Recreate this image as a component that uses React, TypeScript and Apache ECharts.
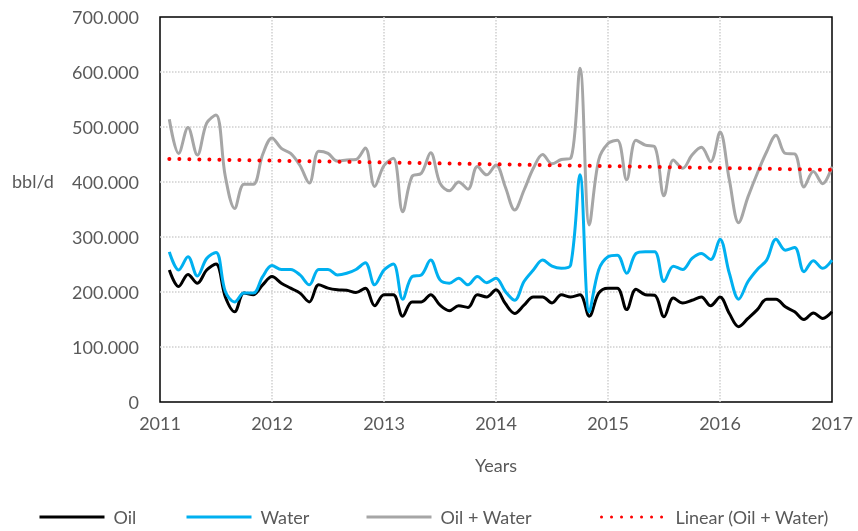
import React, { useEffect, useRef } from 'react';
import * as echarts from 'echarts';

const startYear = 2011;
const xTicks = [2011, 2012, 2013, 2014, 2015, 2016, 2017];
const yTicks = [0, 100, 200, 300, 400, 500, 600, 700];
const seriesNames = ['Oil', 'Water', 'Oil + Water', 'Linear (Oil + Water)'];

// Monthly values, Feb 2011 .. Jan 2017 (bbl/d)
const oil = [
  240, 210, 232, 216, 240, 251, 191, 164, 198, 195, 213, 228,
  216, 207, 198, 182, 213, 207, 204, 203, 199, 207, 175, 195,
  195, 156, 182, 182, 195, 176, 166, 175, 172, 195, 191, 204,
  179, 161, 176, 191, 191, 180, 195, 191, 195, 156, 198, 207,
  207, 168, 205, 195, 194, 155, 189, 180, 185, 191, 175, 191,
  161, 137, 152, 168, 187, 187, 173, 164, 150, 162, 152, 164,
];
const water = [
  273, 240, 264, 229, 261, 272, 201, 182, 198, 198, 228, 248,
  241, 241, 231, 213, 241, 241, 231, 234, 241, 253, 213, 240,
  251, 187, 228, 231, 258, 222, 216, 225, 213, 228, 217, 225,
  201, 185, 219, 240, 258, 247, 243, 249, 413, 164, 240, 264,
  267, 234, 270, 273, 273, 219, 247, 241, 261, 270, 259, 296,
  234, 187, 219, 241, 258, 296, 276, 281, 237, 257, 243, 258,
];
const oilWater = [
  514, 452, 499, 449, 507, 522, 410, 352, 396, 396, 450, 480,
  461, 452, 430, 398, 456, 452, 438, 440, 441, 462, 392, 430,
  443, 346, 410, 416, 453, 398, 384, 400, 387, 428, 413, 431,
  391, 349, 385, 425, 450, 433, 441, 443, 607, 322, 440, 470,
  476, 404, 476, 467, 464, 375, 440, 425, 449, 463, 437, 491,
  404, 326, 373, 416, 455, 485, 452, 451, 391, 419, 397, 428,
];

const toPoints = (vals: number[]) => vals.map((v, i) => [startYear + (i + 1) / 12, v]);

function linearTrend(pts: number[][]) {
  const n = pts.length;
  let sx = 0, sy = 0, sxx = 0, sxy = 0;
  pts.forEach(([x, y]) => { sx += x; sy += y; sxx += x * x; sxy += x * y; });
  const b = (n * sxy - sx * sy) / (n * sxx - sx * sx);
  const a = (sy - b * sx) / n;
  const x0 = pts[0][0];
  const x1 = pts[n - 1][0];
  return [[x0, a + b * x0], [x1, a + b * x1]];
}

const FONT = 'Lato, "Liberation Sans", sans-serif';
const LABEL = '#595959';
const legendLefts = [38, 185, 365, 600];

export default function App() {
  const ref = useRef<HTMLDivElement>(null);
  useEffect(() => {
    if (!ref.current) return;
    const chart = echarts.init(ref.current, null, { renderer: 'svg' });
    const owPts = toPoints(oilWater);
    const split = { show: true, showMinLine: false, showMaxLine: false, lineStyle: { color: '#cfcfcf', type: 'dotted', width: 1.5 } };
    chart.setOption({
      animation: false,
      textStyle: { fontFamily: FONT },
      grid: {
        left: 160, right: 26, top: 17, bottom: 129,
        show: true, borderColor: '#000', borderWidth: 1.5, backgroundColor: 'transparent',
      },
      xAxis: {
        type: 'value', min: xTicks[0], max: xTicks[xTicks.length - 1], interval: 1,
        name: 'Years', nameLocation: 'middle', nameGap: 54,
        nameTextStyle: { color: LABEL, fontSize: 18, fontFamily: FONT },
        axisLine: { show: false }, axisTick: { show: false },
        axisLabel: { color: LABEL, fontSize: 18, margin: 12, formatter: (v: number) => String(v) },
        splitLine: split,
      },
      yAxis: {
        type: 'value', min: yTicks[0], max: yTicks[yTicks.length - 1], interval: 100,
        axisLine: { show: false }, axisTick: { show: false },
        axisLabel: { color: LABEL, fontSize: 18, margin: 21, formatter: (v: number) => (v === 0 ? '0' : v.toFixed(3)) },
        splitLine: split,
      },
      legend: seriesNames.map((name, i) => ({
        data: [name], left: legendLefts[i], top: 508, padding: 0,
        itemWidth: 65, itemHeight: 14,
        itemStyle: { opacity: 0 },
        lineStyle: { width: 3 },
        textStyle: { color: LABEL, fontSize: 18, fontFamily: FONT, padding: [0, 0, 0, 4] },
      })),
      graphic: [
        { type: 'text', left: 12, top: 172, style: { text: 'bbl/d', fill: LABEL, fontSize: 18, fontFamily: FONT } },
      ],
      series: [
        { name: seriesNames[0], type: 'line', data: toPoints(oil), showSymbol: false, symbol: 'none', smooth: 0.35,
          lineStyle: { color: '#000000', width: 3 }, itemStyle: { color: '#000000' } },
        { name: seriesNames[1], type: 'line', data: toPoints(water), showSymbol: false, symbol: 'none', smooth: 0.35,
          lineStyle: { color: '#00b0f0', width: 3 }, itemStyle: { color: '#00b0f0' } },
        { name: seriesNames[2], type: 'line', data: owPts, showSymbol: false, symbol: 'none', smooth: 0.35,
          lineStyle: { color: '#a6a6a6', width: 3 }, itemStyle: { color: '#a6a6a6' } },
        { name: seriesNames[3], type: 'line', data: linearTrend(owPts), showSymbol: false, symbol: 'none',
          lineStyle: { color: '#ff0000', width: 4, type: [0.01, 10], cap: 'round' }, itemStyle: { color: '#ff0000' } },
      ],
    });
    return () => chart.dispose();
  }, []);
  return <div ref={ref} style={{ position: 'fixed', left: 0, top: 0, width: 858, height: 531 }} />;
}
